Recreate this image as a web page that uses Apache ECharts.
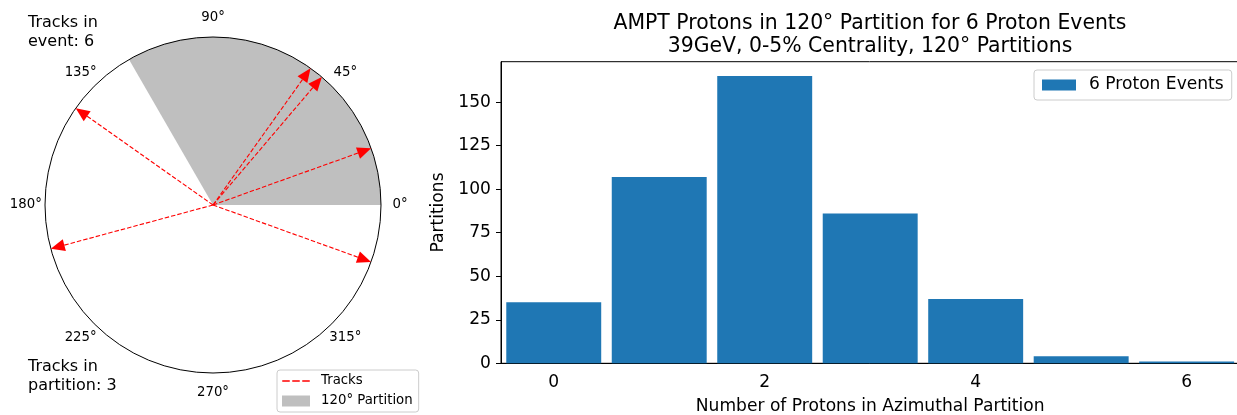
<!DOCTYPE html>
<html>
<head>
<meta charset="utf-8">
<script src="https://cdn.jsdelivr.net/npm/echarts@6/dist/echarts.min.js"></script>
<style>
  html, body { margin: 0; padding: 0; background: #fff; }
  #chart { width: 1237px; height: 415px; }
</style>
</head>
<body>
<div id="chart"></div>
<script>
// Azimuthal angles (degrees) of the tracks in one 6-proton event
const trackAngles = [19.7, 49.6, 54.5, 144.8, 195.1, 340.2];
// Partition window: start angle and opening (degrees)
const partitionStart = 0;
const partitionWidth = 120;
// Angular tick labels
const angleTicks = [0, 45, 90, 135, 180, 225, 270, 315];

// Histogram: protons found in a partition -> number of partitions
const protonCounts = ['0', '1', '2', '3', '4', '5', '6'];
const partitionCounts = [35, 107, 165, 86, 37, 4, 1];
const yTicks = [0, 25, 50, 75, 100, 125, 150];

const FONT = 'DejaVu Sans';
const RED = '#ff0000';
const GREY = '#bfbfbf';
const BLUE = '#1f77b4';
const AXIS_FS = 17.1;
const LABEL_RADIUS = 1.114;   // angle labels sit just outside the unit circle

const inPartition = trackAngles.filter(a => ((a - partitionStart) % 360 + 360) % 360 < partitionWidth).length;
const yMax = Math.max(...partitionCounts) * 1.05;

// Filled wedge of the partition, sampled along the polar axes
function renderPartition(params, api) {
  const a0 = api.value(1);
  const w = api.value(2);
  const pts = [api.coord([0, a0])];
  const n = 90;
  for (let k = 0; k <= n; k++) pts.push(api.coord([api.value(0), a0 + w * k / n]));
  return { type: 'polygon', shape: { points: pts }, style: { fill: GREY } };
}

// Dashed track from the origin with a filled arrow head at the rim
function renderTrack(params, api) {
  const r = api.value(0);
  const ang = api.value(1);
  const c = api.coord([0, ang]);
  const tip = api.coord([r, ang]);
  const dx = tip[0] - c[0], dy = tip[1] - c[1];
  const len = Math.hypot(dx, dy);
  const ux = dx / len, uy = dy / len;
  const hl = 14, hw = 6;
  const bx = tip[0] - ux * hl, by = tip[1] - uy * hl;
  const px = -uy, py = ux;
  return {
    type: 'group',
    children: [
      { type: 'line', shape: { x1: c[0], y1: c[1], x2: bx, y2: by },
        style: { stroke: RED, lineWidth: 1.1, lineDash: [4.5, 2] } },
      { type: 'polygon', shape: { points: [[tip[0], tip[1]], [bx + px * hw, by + py * hw], [bx - px * hw, by - py * hw]] },
        style: { fill: RED } }
    ]
  };
}

const dashIcon = 'path://M0,0M0,11M0,4.7h7.5v1.6h-7.5zM10,4.7h7.5v1.6h-7.5zM20,4.7h7.5v1.6h-7.5z';

const chart = echarts.init(document.getElementById('chart'));
chart.setOption({
  backgroundColor: '#fff',
  animation: false,
  textStyle: { fontFamily: FONT },
  title: {
    text: 'AMPT Protons in 120° Partition for 6 Proton Events\n39GeV, 0-5% Centrality, 120° Partitions',
    left: 870, top: 12, textAlign: 'center', padding: 0,
    textStyle: { fontFamily: FONT, fontSize: 20.4, fontWeight: 'normal', color: '#000', lineHeight: 23 }
  },
  polar: { center: [213, 205], radius: 168 },
  angleAxis: {
    type: 'value', min: 0, max: 360, interval: 45, startAngle: 0, clockwise: false, z: 2,
    axisLine: { lineStyle: { color: '#000', width: 1 } },
    axisTick: { show: false },
    splitLine: { show: false },
    axisLabel: { show: false }
  },
  radiusAxis: { type: 'value', min: 0, max: 1, show: false },
  grid: {
    left: 501, top: 61.7, right: -2.4, bottom: 51.7,
    show: true, borderColor: '#000', borderWidth: 1, backgroundColor: 'transparent',
    outerBoundsMode: 'none'
  },
  xAxis: {
    type: 'category', data: protonCounts,
    name: 'Number of Protons in Azimuthal Partition', nameLocation: 'middle', nameGap: 35,
    nameTextStyle: { fontFamily: FONT, fontSize: AXIS_FS, color: '#000' },
    axisLine: { lineStyle: { color: '#000', width: 1 } },
    axisTick: { interval: 1, alignWithLabel: true, length: 5, lineStyle: { color: '#000' } },
    axisLabel: { interval: 1, fontFamily: FONT, fontSize: AXIS_FS, color: '#000', margin: 11 },
    splitLine: { show: false }
  },
  yAxis: {
    type: 'value', min: 0, max: yMax,
    name: 'Partitions', nameLocation: 'middle', nameGap: 47,
    nameTextStyle: { fontFamily: FONT, fontSize: AXIS_FS, color: '#000' },
    axisLine: { show: true, lineStyle: { color: '#000', width: 1 } },
    axisTick: { show: true, length: 5, customValues: yTicks, lineStyle: { color: '#000' } },
    axisLabel: { customValues: yTicks, fontFamily: FONT, fontSize: AXIS_FS, color: '#000', margin: 10 },
    splitLine: { show: false }
  },
  legend: [
    {
      data: [
        { name: 'Tracks', icon: dashIcon },
        { name: '120° Partition', icon: 'rect' }
      ],
      orient: 'vertical', left: 277, top: 370,
      itemWidth: 28, itemHeight: 11, itemGap: 6,
      padding: [4, 6, 4, 5],
      borderColor: '#cccccc', borderWidth: 1, borderRadius: 3, backgroundColor: '#fff',
      selectedMode: false,
      textStyle: { fontFamily: FONT, fontSize: 13.3, color: '#000', lineHeight: 14, padding: [0, 0, 0, 6] }
    },
    {
      data: [{ name: '6 Proton Events', icon: 'rect' }],
      left: 1034, top: 70,
      itemWidth: 34, itemHeight: 11,
      padding: [6, 8, 6, 8],
      borderColor: '#cccccc', borderWidth: 1, borderRadius: 3, backgroundColor: '#fff',
      selectedMode: false,
      textStyle: { fontFamily: FONT, fontSize: AXIS_FS, color: '#000', lineHeight: 18, padding: [0, 0, 0, 8] }
    }
  ],
  graphic: [
    { type: 'text', left: 28, top: 13,
      style: { text: 'Tracks in\nevent: ' + trackAngles.length, fontFamily: FONT, fontSize: 16, fill: '#000', lineHeight: 19 } },
    { type: 'text', left: 28, top: 357,
      style: { text: 'Tracks in\npartition: ' + inPartition, fontFamily: FONT, fontSize: 16, fill: '#000', lineHeight: 19 } }
  ],
  series: [
    {
      name: '120° Partition', type: 'custom', coordinateSystem: 'polar', z: 1,
      itemStyle: { color: GREY },
      renderItem: renderPartition,
      data: [[1, partitionStart, partitionWidth]],
      silent: true
    },
    {
      name: 'Tracks', type: 'custom', coordinateSystem: 'polar', z: 3,
      itemStyle: { color: RED },
      renderItem: renderTrack,
      data: trackAngles.map(a => [1, a]),
      silent: true
    },
    {
      // angular tick labels, centred on their polar positions
      name: 'angleLabels', type: 'scatter', coordinateSystem: 'polar', z: 3,
      clip: false, silent: true, symbolSize: 1,
      itemStyle: { color: '#ffffff', opacity: 0 },
      label: {
        show: true, position: 'inside', align: 'center', verticalAlign: 'middle',
        fontFamily: FONT, fontSize: 13.3, color: '#000000', opacity: 1,
        textBorderWidth: 0, textShadowBlur: 0,
        formatter: p => p.value[1] + '°'
      },
      data: angleTicks.map(a => [LABEL_RADIUS, a])
    },
    {
      name: '6 Proton Events', type: 'bar', xAxisIndex: 0, yAxisIndex: 0,
      barCategoryGap: '10%',
      itemStyle: { color: BLUE },
      data: partitionCounts
    }
  ]
});
</script>
</body>
</html>
